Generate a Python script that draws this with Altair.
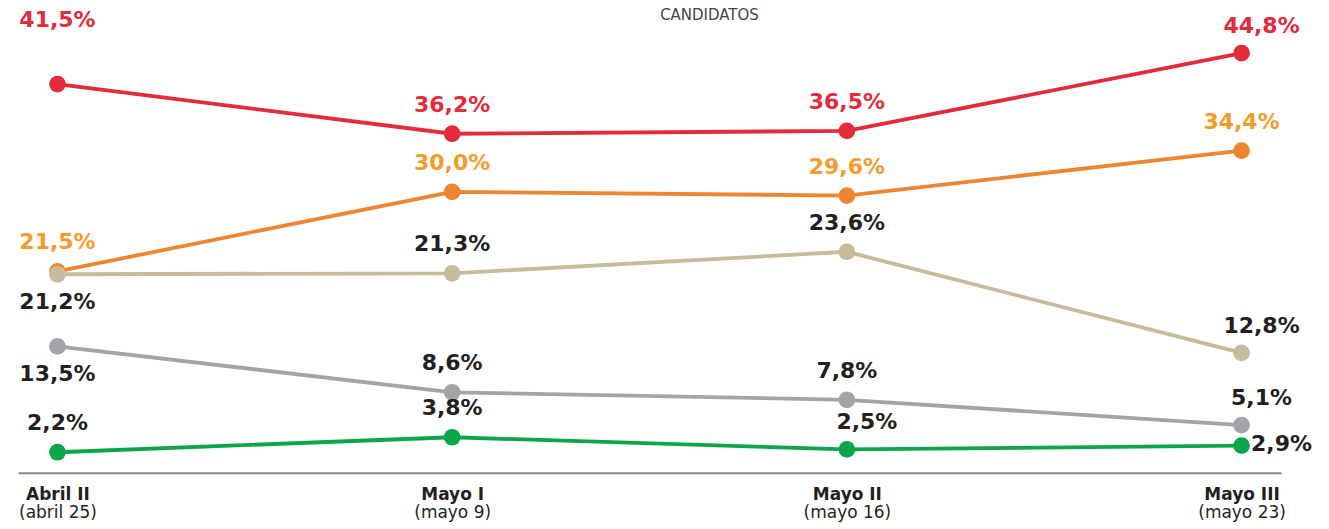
import altair as alt
import pandas as pd

periodos = ["Abril II", "Mayo I", "Mayo II", "Mayo III"]
fechas = ["(abril 25)", "(mayo 9)", "(mayo 16)", "(mayo 23)"]
series = ["Rojo", "Naranja", "Beige", "Gris", "Verde"]

valores_rojo = [41.5, 36.2, 36.5, 44.8]
valores_naranja = [21.5, 30.0, 29.6, 34.4]
valores_beige = [21.2, 21.3, 23.6, 12.8]
valores_gris = [13.5, 8.6, 7.8, 5.1]
valores_verde = [2.2, 3.8, 2.5, 2.9]

# where each value label sits relative to its point
lugar_rojo = ["top", "above", "above", "upright"]
lugar_naranja = ["above", "above", "above", "above"]
lugar_beige = ["below", "above", "above", "upright"]
lugar_gris = ["below", "above", "above", "upright"]
lugar_verde = ["above", "above", "upright", "right"]

colores_linea = ["#E42A3B", "#EE8530", "#C7BB9C", "#A2A4A7", "#0BA64B"]
colores_texto = ["#E42A3B", "#F39C2A", "#231F20", "#231F20", "#231F20"]
tamanos = [280, 280, 280, 160, 160]

valores = [valores_rojo, valores_naranja, valores_beige, valores_gris, valores_verde]
lugares = [lugar_rojo, lugar_naranja, lugar_beige, lugar_gris, lugar_verde]

rows = []
for s, vals, lus in zip(series, valores, lugares):
    for p, v, lu in zip(periodos, vals, lus):
        rows.append({"serie": s, "periodo": p, "valor": v, "lugar": lu,
                     "etiqueta": f"{v:.1f}".replace(".", ",") + "%"})
df = pd.DataFrame(rows)

FONT = "DejaVu Sans"

x_main = alt.X("periodo:N", sort=periodos,
               scale=alt.Scale(type="point", padding=0.1),
               axis=alt.Axis(title=None, orient="bottom", domain=True, domainColor="#8C8C8C",
                             domainWidth=2, ticks=False, labelAngle=0, labelFont=FONT,
                             labelFontSize=17, labelFontWeight="bold", labelColor="#231F20",
                             labelPadding=14, labelBaseline="top", grid=False))
y_enc = alt.Y("valor:Q", scale=alt.Scale(domain=[0, 48], nice=False, zero=True), axis=None)
col_line = alt.Color("serie:N", scale=alt.Scale(domain=series, range=colores_linea), legend=None)
col_text = alt.Color("serie:N", scale=alt.Scale(domain=series, range=colores_texto), legend=None)

base = alt.Chart(df)

lines = base.mark_line(strokeWidth=3.8).encode(x=x_main, y=y_enc, color=col_line, detail="serie:N")
points = base.mark_circle(opacity=1).encode(
    x=x_main, y=y_enc, color=col_line,
    size=alt.Size("serie:N", scale=alt.Scale(domain=series, range=tamanos), legend=None))
pts_lines = alt.layer(lines, points)

offsets = {"above": (0, -29), "below": (0, 28), "top": (0, -64),
           "upright": (20, -27), "right": (40, -2)}
texts = []
for lug, (dx, dy) in offsets.items():
    texts.append(
        base.transform_filter(alt.datum.lugar == lug)
        .mark_text(font=FONT, fontSize=22, fontWeight="bold", dx=dx, dy=dy, baseline="middle")
        .encode(x=x_main, y=y_enc, text="etiqueta:N", color=col_text)
    )
text_layer = alt.layer(*texts)

main = alt.layer(pts_lines, text_layer).resolve_scale(color="independent")

fecha_expr = "[" + ",".join(f"'{f}'" for f in fechas) + "][indexof([" + \
    ",".join(f"'{p}'" for p in periodos) + "], datum.value)]"
x_fecha = alt.X("periodo:N", sort=periodos,
                scale=alt.Scale(type="point", padding=0.1),
                axis=alt.Axis(title=None, orient="bottom", domain=False, ticks=False, labelAngle=0,
                              labelFont=FONT, labelFontSize=17, labelFontWeight="normal",
                              labelColor="#231F20", labelPadding=32, labelBaseline="top",
                              labelExpr=fecha_expr, grid=False))
dummy = base.mark_point(opacity=0).encode(x=x_fecha, y=y_enc)

chart = alt.layer(main, dummy).resolve_axis(x="independent").properties(
    width=1264, height=450,
    background="white",
    autosize=alt.AutoSizeParams(type="none"),
    padding={"left": 10, "top": 15, "right": 40, "bottom": 52},
    title=alt.TitleParams("CANDIDATOS", font=FONT, fontSize=15, fontWeight="normal",
                          color="#444444", anchor="middle", dx=60, offset=-29, baseline="bottom",
                          frame="group"),
).configure_view(stroke=None)

chart.save("out.html", embed_options={"renderer": "svg", "actions": False})
